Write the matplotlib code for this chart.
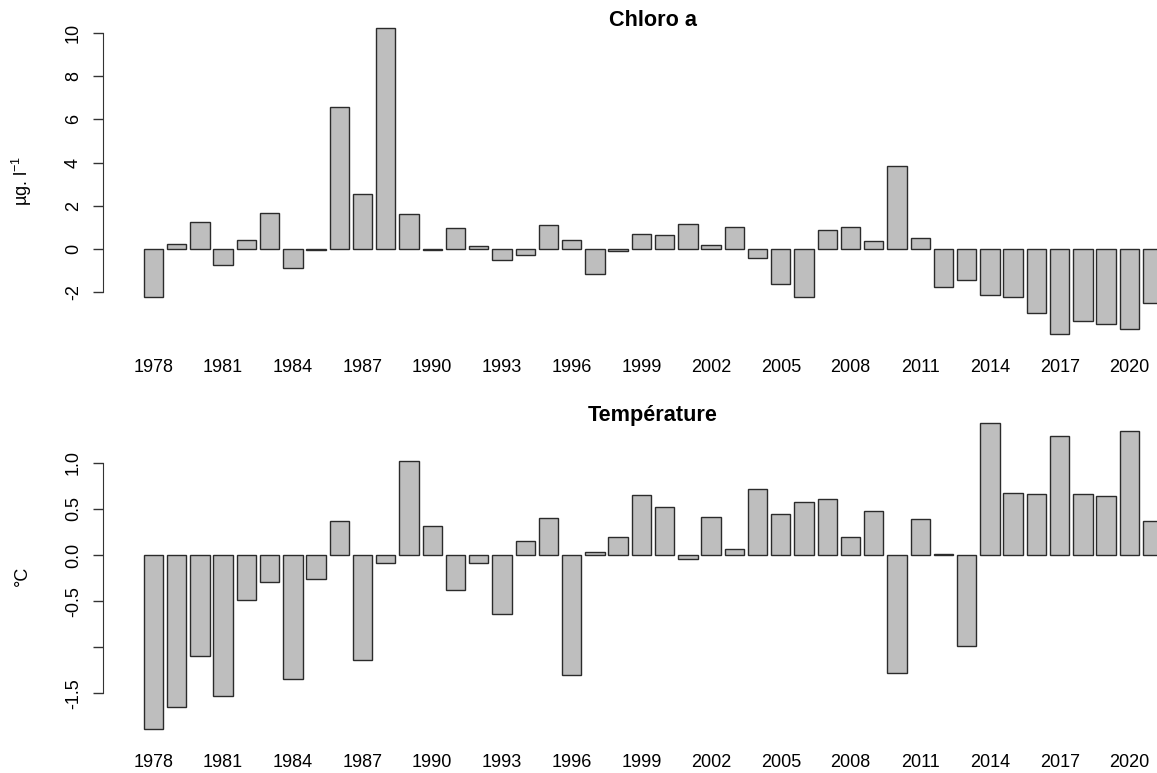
import numpy as np
import matplotlib
matplotlib.use("Agg")
import matplotlib.pyplot as plt

plt.rcParams['font.family'] = ['Liberation Sans', 'DejaVu Sans']
plt.rcParams['axes.unicode_minus'] = False
plt.rcParams['mathtext.fontset'] = 'custom'
plt.rcParams['mathtext.rm'] = 'Liberation Sans'
plt.rcParams['mathtext.it'] = 'Liberation Sans'

# annual anomalies, 1978-2021
years = list(range(1978, 2022))
chloro = [-2.22, 0.22, 1.23, -0.75, 0.43, 1.66, -0.86, -0.05, 6.55, 2.56,
          10.23, 1.60, -0.05, 0.96, 0.15, -0.49, -0.29, 1.11, 0.43, -1.17,
          -0.11, 0.69, 0.65, 1.17, 0.17, 1.02, -0.43, -1.62, -2.23, 0.86,
          1.02, 0.39, 3.85, 0.52, -1.76, -1.45, -2.14, -2.23, -2.94, -3.94,
          -3.31, -3.45, -3.68, -2.51]
temp = [-1.89, -1.65, -1.10, -1.53, -0.49, -0.29, -1.34, -0.26, 0.37, -1.14,
        -0.09, 1.02, 0.31, -0.38, -0.09, -0.64, 0.15, 0.40, -1.30, 0.036,
        0.19, 0.65, 0.52, -0.04, 0.41, 0.07, 0.72, 0.45, 0.57, 0.61,
        0.19, 0.48, -1.28, 0.39, 0.01, -0.99, 1.43, 0.67, 0.66, 1.29,
        0.66, 0.64, 1.34, 0.37]

chloro_ticks = [-2, 0, 2, 4, 6, 8, 10]
chloro_labels = ['-2', '0', '2', '4', '6', '8', '10']
temp_ticks = [-1.5, -1.0, -0.5, 0.0, 0.5, 1.0]
temp_labels = ['-1.5', '', '-0.5', '0.0', '0.5', '1.0']

W, H = 1157, 773
fig = plt.figure(figsize=(W / 100, H / 100), dpi=100)

# barplot-like geometry: width 1, space 0.2
xpos = 0.7 + 1.2 * np.arange(len(years))
xr = (xpos[-1] + 0.5) - (xpos[0] - 0.5)
xlim = (xpos[0] - 0.5 - 0.04 * xr, xpos[-1] + 0.5 + 0.04 * xr)

left, width = 103 / W, 1100 / W


def panel(top_px, bot_px, vals, ticks, labels, title, ylab):
    ax = fig.add_axes([left, (H - bot_px) / H, width, (bot_px - top_px) / H])
    ax.bar(xpos, vals, width=1.0, color='#bebebe', edgecolor='#2b2b2b',
           linewidth=1.0)
    yr = max(vals) - min(vals)
    ax.set_ylim(min(vals) - 0.04 * yr, max(vals) + 0.04 * yr)
    ax.set_xlim(*xlim)
    for s in ['top', 'right', 'bottom']:
        ax.spines[s].set_visible(False)
    ax.spines['left'].set_bounds(ticks[0], ticks[-1])
    ax.spines['left'].set_color('#333333')
    ax.set_yticks(ticks)
    ax.set_yticklabels(labels, rotation=90, va='center', ha='center')
    ax.tick_params(axis='y', length=7.2, width=1, color='#333333',
                   labelsize=13, pad=14)
    ax.set_xticks(xpos[::3])
    ax.set_xticklabels([str(y) for y in years[::3]])
    ax.tick_params(axis='x', length=0, labelsize=13, pad=9)
    ax.text(0.5, 0.969, title, transform=ax.transAxes, ha='center',
            va='baseline', fontsize=15.6, fontweight='bold')
    ax.text(-0.0735, 0.5, ylab, transform=ax.transAxes, rotation=90,
            ha='center', va='center', fontsize=13)
    return ax


panel(15.7, 346.4, chloro, chloro_ticks, chloro_labels, 'Chloro a',
      'µg. l$^{-1}$')
panel(410.9, 741.5, temp, temp_ticks, temp_labels, 'Température', '°C')

fig.savefig('out.png', dpi=100)
